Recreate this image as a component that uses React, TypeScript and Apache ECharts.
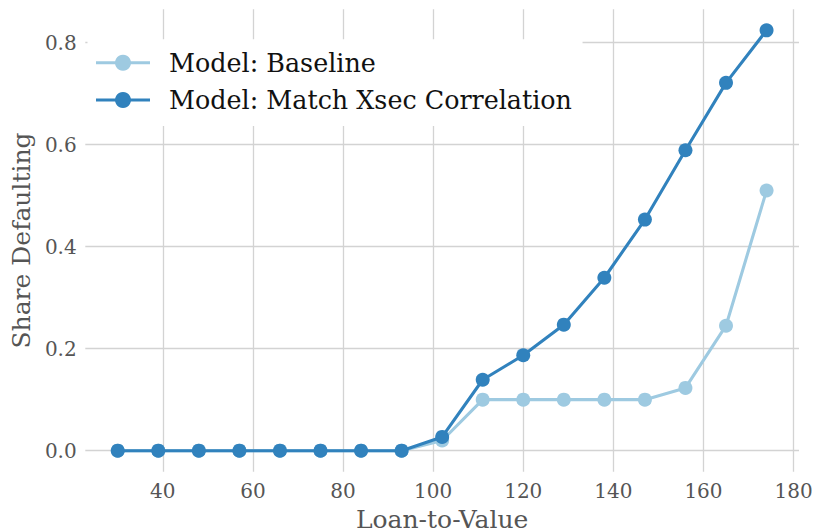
import React, { useEffect, useRef } from "react";
import * as echarts from "echarts";

const ltv: number[] = [30, 39, 48, 57, 66, 75, 84, 93, 102, 111, 120, 129, 138, 147, 156, 165, 174];
const baseline: number[] = [0, 0, 0, 0, 0, 0, 0, 0, 0.02, 0.1, 0.1, 0.1, 0.1, 0.1, 0.123, 0.245, 0.51];
const matchXsec: number[] = [0, 0, 0, 0, 0, 0, 0, 0, 0.027, 0.139, 0.187, 0.247, 0.339, 0.453, 0.589, 0.721, 0.824];
const xTicks: number[] = [40, 60, 80, 100, 120, 140, 160, 180];
const yTicks: number[] = [0, 0.2, 0.4, 0.6, 0.8];
const seriesNames: string[] = ["Model: Baseline", "Model: Match Xsec Correlation"];
const seriesColors: string[] = ["#9ecae1", "#3182bd"];

const FONT = "DejaVu Serif";

export default function App() {
  const ref = useRef<HTMLDivElement>(null);
  useEffect(() => {
    if (!ref.current) return;
    const chart = echarts.init(ref.current, undefined, { renderer: "svg" });
    const datasets = [baseline, matchXsec];
    chart.setOption({
      animation: false,
      backgroundColor: "#ffffff",
      grid: { left: 85.3, right: 15, top: 9.3, bottom: 60.3, containLabel: false, outerBoundsMode: "none" },
      legend: {
        left: 87.5,
        top: 39.3,
        orient: "vertical",
        padding: [7.4, 10.6, 10, 7],
        backgroundColor: "#ffffff",
        itemWidth: 54,
        itemHeight: 20,
        itemGap: 5.3,
        data: seriesNames,
        lineStyle: { width: 3 },
        textStyle: {
          fontFamily: FONT,
          fontSize: 25.4,
          color: "#111111",
          lineHeight: 32,
          padding: [0, 0, 0, 14],
        },
      },
      xAxis: {
        type: "value",
        min: 22.8,
        max: 181.2,
        name: "Loan-to-Value",
        nameLocation: "middle",
        nameGap: 35,
        nameTextStyle: { fontFamily: FONT, fontSize: 25, color: "#555555" },
        axisLine: { show: false },
        axisTick: { show: false, customValues: xTicks },
        axisLabel: {
          customValues: xTicks,
          fontFamily: FONT,
          fontSize: 20,
          color: "#555555",
          margin: 9,
        },
        splitLine: { show: true, lineStyle: { color: "#d3d3d3", width: 1.3 } },
      },
      yAxis: {
        type: "value",
        min: -0.0412,
        max: 0.8652,
        name: "Share Defaulting",
        nameLocation: "middle",
        nameGap: 50,
        nameRotate: 90,
        nameTextStyle: { fontFamily: FONT, fontSize: 25, color: "#555555" },
        axisLine: { show: false },
        axisTick: { show: false, customValues: yTicks },
        axisLabel: {
          customValues: yTicks,
          fontFamily: FONT,
          fontSize: 20,
          color: "#555555",
          margin: 8.6,
          formatter: (v: number) => v.toFixed(1),
        },
        splitLine: { show: true, lineStyle: { color: "#d3d3d3", width: 1.3 } },
      },
      series: datasets.map((d, i) => ({
        name: seriesNames[i],
        type: "line",
        data: ltv.map((x, j) => [x, d[j]]),
        symbol: "circle",
        symbolSize: 14,
        showSymbol: true,
        color: seriesColors[i],
        lineStyle: { color: seriesColors[i], width: 3.1 },
        itemStyle: { color: seriesColors[i] },
        z: 2 + i,
      })),
    });
    return () => chart.dispose();
  }, []);
  return <div ref={ref} style={{ width: 814, height: 532, position: "absolute", left: 0, top: 0 }} />;
}
